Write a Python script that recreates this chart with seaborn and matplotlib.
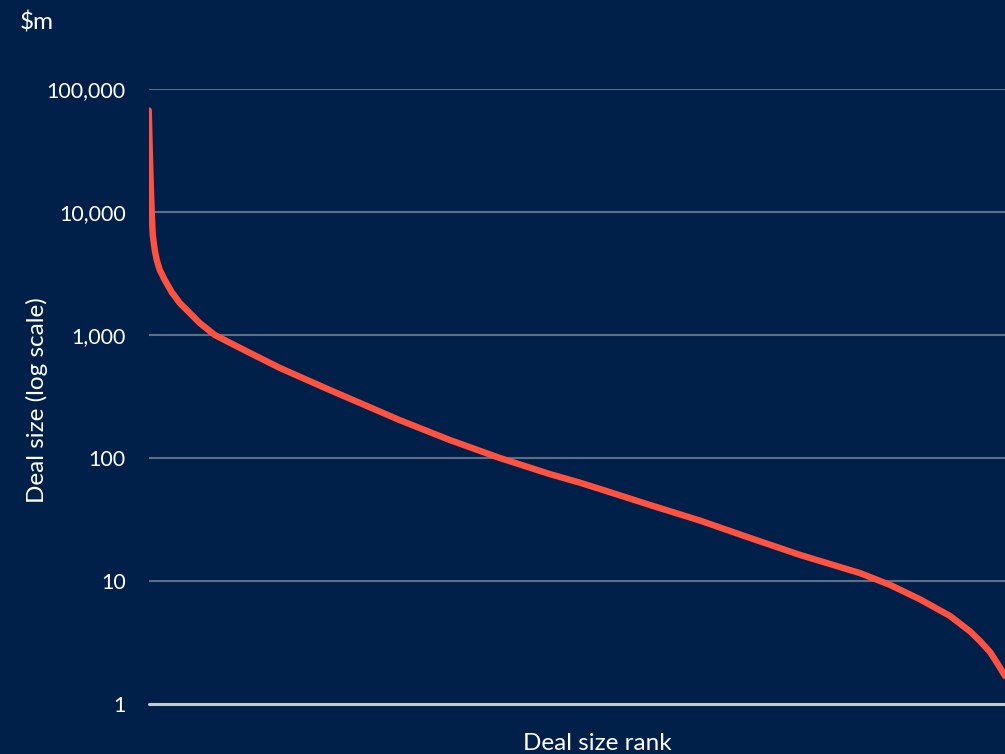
import matplotlib
matplotlib.use("Agg")
import matplotlib.pyplot as plt
import matplotlib.ticker as mticker
import pandas as pd
import seaborn as sb

# deal size curve (rank position, deal size in $m)
rank = [0, 1, 2, 3, 4, 6, 8, 11, 16, 23, 31, 41, 51, 66, 96, 131, 181, 251, 301,
        351, 401, 431, 451, 501, 551, 601, 651, 711, 741, 771, 801, 821, 831, 841,
        849, 856]
deal_size = [67000, 32000, 16600, 9800, 6500, 4900, 4070, 3380, 2800, 2230, 1820,
             1510, 1250, 1000, 750, 540, 357, 203, 140, 100, 74, 63, 56, 41.5, 31,
             22.4, 16.3, 11.6, 9.3, 7.1, 5.2, 3.9, 3.25, 2.65, 2.1, 1.69]
ytick_vals = [1, 10, 100, 1000, 10000, 100000]

BG = "#00204A"
LINE = "#FF5241"
GRID = "#5B6F87"
TXT = "#FFFFFF"

sb.set_theme(style="dark")
plt.rcParams["font.family"] = ["Lato", "DejaVu Sans"]

df = pd.DataFrame({"rank": rank, "size": deal_size})

fig = plt.figure(figsize=(10.05, 7.54), dpi=100, facecolor=BG)
ax = fig.add_axes([0.148, 0.0663, 0.852, 0.8157])
ax.set_facecolor(BG)

sb.lineplot(data=df, x="rank", y="size", color=LINE, linewidth=4.6, ax=ax, zorder=3)

ax.set_yscale("log")
ax.set_ylim(1, 100000)
ax.set_xlim(0, 856)
ax.set_yticks(ytick_vals)
ax.yaxis.set_major_formatter(mticker.FuncFormatter(lambda v, p: f"{v:,.0f}"))
ax.yaxis.set_minor_locator(mticker.NullLocator())
ax.set_xticks([])
ax.tick_params(axis="y", length=0, pad=16.5, labelsize=15.5, labelcolor=TXT)

for v in ytick_vals[1:]:
    ax.axhline(v, color=GRID, linewidth=1.5, zorder=1)
ax.axhline(1, color="#C3CBD4", linewidth=2.2, zorder=2, clip_on=False)
ax.grid(False)
for s in ax.spines.values():
    s.set_visible(False)

ax.set_xlabel("")
ax.set_ylabel("")
fig.text(37 / 1005, 1 - 400 / 754, "Deal size (log scale)", color=TXT, fontsize=17.5,
         rotation=90, ha="center", va="center")
fig.text(597 / 1005, 1 - 744 / 754, "Deal size rank", color=TXT, fontsize=17.5,
         ha="center", va="center")
fig.text(20 / 1005, 1 - 22 / 754, "$m", color=TXT, fontsize=17.5, ha="left", va="center")

fig.savefig("out.png", dpi=100, facecolor=BG)
